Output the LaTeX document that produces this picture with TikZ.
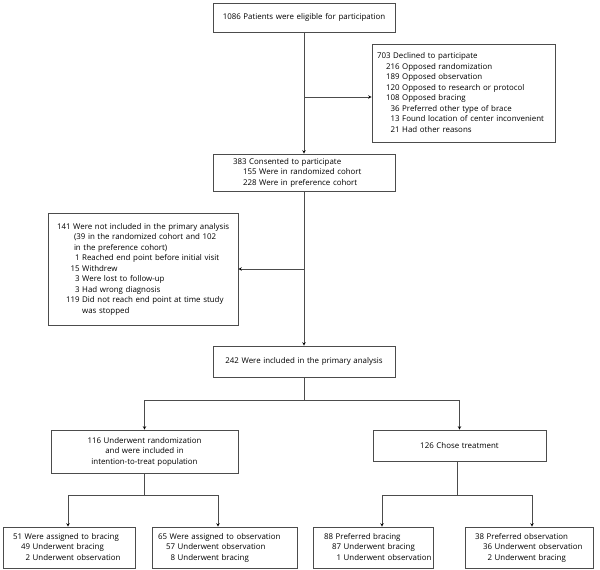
\documentclass[tikz,border=0pt]{standalone}
\usepackage{fontspec}
\setmainfont{Open Sans}
\usepackage{tikz}

\tikzset{
  flowbox/.style={draw=black!70, line width=0.6pt, align=left, inner ysep=0pt,
    font=\fontsize{7.9}{10.5}\selectfont},
  flowline/.style={draw=black!70, line width=0.6pt, >=stealth},
}

\begin{document}
\begin{tikzpicture}[x=1pt,y=-1pt]
        \useasboundingbox (0,0) rectangle (600,570);

        % Main column
        \node[flowbox, align=center, text width=170pt, inner xsep=6pt, minimum height=29pt] (elig) at (304,17.5)
            {1086 Patients were eligible for participation};
        \node[flowbox, text width=142pt, inner xsep=20pt, minimum height=37pt] (cons) at (304,172.5)
            {\begin{tabular}{@{}l@{}}
             383 Consented to participate\\
             \hspace*{10pt}155 Were in randomized cohort\\
             \hspace*{10pt}228 Were in preference cohort
             \end{tabular}};
        \node[flowbox, align=center, text width=170pt, inner xsep=6pt, minimum height=31pt] (prim) at (304,361.5)
            {242 Were included in the primary analysis};

        % Side boxes
        \node[flowbox, text width=173pt, inner xsep=5pt, minimum height=98pt] (decl) at (463.5,93.5)
            {\begin{tabular}{@{}l@{}}
             703 Declined to participate\\
             \hspace*{9pt}216 Opposed randomization\\
             \hspace*{9pt}189 Opposed observation\\
             \hspace*{9pt}120 Opposed to research or protocol\\
             \hspace*{9pt}108 Opposed bracing\\
             \hspace*{9pt}\phantom{1}36 Preferred other type of brace\\
             \hspace*{9pt}\phantom{1}13 Found location of center inconvenient\\
             \hspace*{9pt}\phantom{1}21 Had other reasons
             \end{tabular}};
        \node[flowbox, text width=172pt, inner xsep=9pt, minimum height=112pt] (excl) at (143,269)
            {\begin{tabular}{@{}l@{}}
             141 Were not included in the primary analysis\\
             \hspace*{17pt}(39 in the randomized cohort and 102\\
             \hspace*{17pt}in the preference cohort)\\
             \hspace*{9pt}\phantom{11}1 Reached end point before initial visit\\
             \hspace*{9pt}\phantom{1}15 Withdrew\\
             \hspace*{9pt}\phantom{11}3 Were lost to follow-up\\
             \hspace*{9pt}\phantom{11}3 Had wrong diagnosis\\
             \hspace*{9pt}119 Did not reach end point at time study\\
             \hspace*{9pt}\phantom{119 }was stopped
             \end{tabular}};

        % Cohorts
        \node[flowbox, align=center, text width=175pt, inner xsep=6pt, minimum height=43pt] (rand) at (144.5,451.5)
            {116 Underwent randomization\\and were included in\\intention-to-treat population};
        \node[flowbox, align=center, text width=161pt, inner xsep=6pt, minimum height=31pt] (pref) at (459.5,445.5)
            {126 Chose treatment};

        % Groups
        \node[flowbox, text width=112pt, inner xsep=10pt, minimum height=41pt] (rbrace) at (69,547.5)
            {\begin{tabular}{@{}l@{}}
             51 Were assigned to bracing\\
             \hspace*{8pt}49 Underwent bracing\\
             \hspace*{8pt}\phantom{4}2 Underwent observation
             \end{tabular}};
        \node[flowbox, text width=133pt, inner xsep=6pt, minimum height=41pt] (robs) at (224.5,547.5)
            {\begin{tabular}{@{}l@{}}
             65 Were assigned to observation\\
             \hspace*{8pt}57 Underwent observation\\
             \hspace*{8pt}\phantom{5}8 Underwent bracing
             \end{tabular}};
        \node[flowbox, text width=98pt, inner xsep=11pt, minimum height=41pt] (pbrace) at (373,547.5)
            {\begin{tabular}{@{}l@{}}
             88 Preferred bracing\\
             \hspace*{8pt}87 Underwent bracing\\
             \hspace*{8pt}\phantom{8}1 Underwent observation
             \end{tabular}};
        \node[flowbox, text width=108pt, inner xsep=10pt, minimum height=41pt] (pobs) at (529,547.5)
            {\begin{tabular}{@{}l@{}}
             38 Preferred observation\\
             \hspace*{8pt}36 Underwent observation\\
             \hspace*{8pt}\phantom{3}2 Underwent bracing
             \end{tabular}};

        % Junctions
        \coordinate (j1) at (304,97);
        \coordinate (j2) at (304,269);
        \coordinate (s0) at (304,400);
        \coordinate (sl) at (144.5,400);
        \coordinate (sr) at (459.5,400);
        \coordinate (r0) at (144.5,495);
        \coordinate (r1) at (68,495);
        \coordinate (r2) at (218,495);
        \coordinate (p0) at (457,495);
        \coordinate (p1) at (382,495);
        \coordinate (p2) at (532,495);

        % Edges
        \draw[flowline] (elig) edge[->] (cons)
              (cons) edge[->] (prim)
              (j1) edge[->] (j1 -| decl.west)
              (j2) edge[->] (j2 -| excl.east)
              (prim) edge (s0)
              (sl) edge (sr)
              (sl) edge[->] (rand)
              (sr) edge[->] (pref)
              (rand) edge (r0)
              (r1) edge (r2)
              (r1) edge[->] (r1 |- rbrace.north)
              (r2) edge[->] (r2 |- robs.north)
              (p0 |- pref.south) edge (p0)
              (p1) edge (p2)
              (p1) edge[->] (p1 |- pbrace.north)
              (p2) edge[->] (p2 |- pobs.north);
\end{tikzpicture}
\end{document}
